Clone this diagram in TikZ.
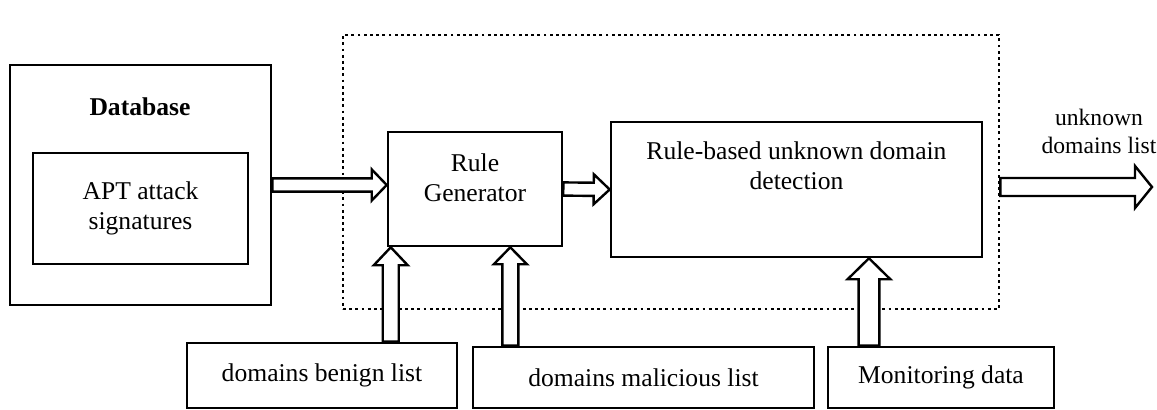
\documentclass[tikz,border=0pt]{standalone}
\usepackage{fontspec}
\setmainfont{Liberation Serif}
\usepackage{tikz}
\usetikzlibrary{positioning,calc}
\definecolor{inkblack}{RGB}{0,0,0}

\tikzset{
  box/.style={draw=inkblack,line width=1.3pt,fill=white,inner sep=0pt},
  txt/.style={align=center,text=inkblack,font=\fontsize{12.8pt}{15pt}\selectfont},
  frameline/.style={draw=inkblack,line width=1.4pt,dash pattern=on 1.4pt off 1.7pt},
  blockarrow/.style={draw=inkblack,line width=1.2pt,fill=white,line join=miter}
}

% hollow block arrow: from, to, shaft half width, head half width, head length, name
\newcommand{\hollowarrow}[6]{%
  \coordinate (#6base) at ($(#2)!#5!(#1)$);
  \draw[blockarrow] ($(#1)!#3!-90:(#2)$) -- ($(#6base)!#3!-90:(#2)$)
    -- ($(#6base)!#4!-90:(#2)$) -- (#2) -- ($(#6base)!#4!90:(#2)$)
    -- ($(#6base)!#3!90:(#2)$) -- ($(#1)!#3!90:(#2)$) -- cycle;}

\begin{document}
\begin{tikzpicture}[x=0.5pt,y=-0.5pt]
        \useasboundingbox (0,0) rectangle (1157,410);

        % dotted frame round the detection part
        \node[frameline,minimum width=328pt,minimum height=137pt]
          (frame) at (671,172) {};

        % database
        \node[box,minimum width=130.5pt,minimum height=120pt] (db) at (140.5,185) {};
        \node[txt,font=\fontsize{12.8pt}{15pt}\selectfont\bfseries] (dbtitle) at (140,107) {Database};
        \node[box,txt,minimum width=107.5pt,minimum height=55.5pt] (apt)
          at (140.5,208.5) {APT attack\\signatures};

        % rule generator and detection
        \node[box,minimum width=87pt,minimum height=57pt] (rulegen) at (475,189) {};
        \node[txt] (rgtext) at (475,178) {Rule\\Generator};
        \node[box,minimum width=185.5pt,minimum height=67.5pt] (ruledet) at (796.5,189.5) {};
        \node[txt] (rdtext) at (796.5,166) {Rule-based unknown domain\\detection};

        % output
        \coordinate (outtip) at (1152,187);
        \node[txt,font=\fontsize{11.8pt}{14pt}\selectfont] (outlabel) at (1099,131) {unknown\\domains list};

        % inputs
        \node[box,txt,minimum width=135pt,minimum height=32.5pt] (benign)
          at (322,375.5) {domains benign list};
        \node[box,txt,minimum width=170.5pt,minimum height=30.5pt] (malicious)
          at (643.5,377.5) {domains malicious list};
        \node[box,txt,minimum width=113pt,minimum height=30.5pt] (monitor)
          at (941,377.5) {Monitoring data};

        % tips of the upward arrows
        \coordinate (bentip) at ($(rulegen.south west)!0.023!(rulegen.south east)$);
        \coordinate (maltip) at ($(rulegen.south west)!0.70!(rulegen.south east)$);
        \coordinate (montip) at ($(ruledet.south west)!0.694!(ruledet.south east)$);

        % arrows
        \hollowarrow{db.east}{db.east -| rulegen.west}{3.3pt}{7.8pt}{7.5pt}{a1}
        \hollowarrow{rulegen.east}{ruledet.west}{3.3pt}{7.5pt}{8pt}{a2}
        \hollowarrow{frame.east |- outtip}{outtip}{4.5pt}{10.5pt}{8.5pt}{a3}
        \hollowarrow{bentip |- benign.north}{bentip}{4pt}{8.5pt}{9pt}{a4}
        \hollowarrow{maltip |- malicious.north}{maltip}{4pt}{8.3pt}{8.5pt}{a5}
        \hollowarrow{montip |- monitor.north}{montip}{5.2pt}{10.7pt}{10.5pt}{a6}
      \end{tikzpicture}
\end{document}
